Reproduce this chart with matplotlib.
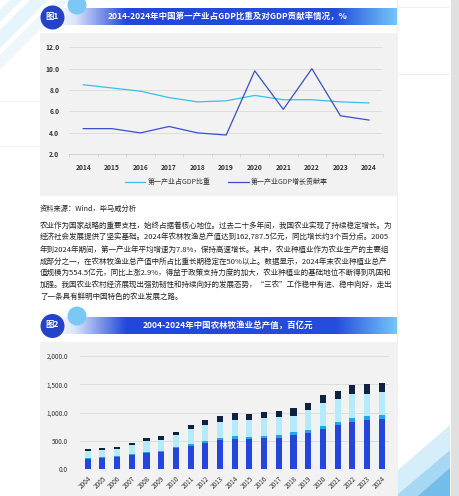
import matplotlib
matplotlib.use('Agg')
import matplotlib.pyplot as plt
import numpy as np
from matplotlib.patches import Rectangle, Circle, Polygon

plt.rcParams['font.family'] = ['Noto Sans CJK SC', 'DejaVu Sans']

# chart 1 data
years1 = ['2014', '2015', '2016', '2017', '2018', '2019', '2020', '2021', '2022', '2023', '2024']
gdp_share = [8.5, 8.2, 7.9, 7.3, 6.9, 7.0, 7.5, 7.1, 7.1, 6.9, 6.8]
gdp_contrib = [4.4, 4.4, 4.0, 4.6, 4.0, 3.8, 9.8, 6.2, 10.0, 5.6, 5.2]
legend1 = ['第一产业占GDP比重', '第一产业GDP增长贡献率']

# chart 2 data (百亿元)
years2 = [str(y) for y in range(2004, 2025)]
agri = [181, 196, 215, 247, 280, 308, 369, 420, 469, 515, 541, 530, 547, 559, 601, 649, 708, 779, 833, 869, 887]
forest = [14, 14, 16, 19, 22, 22, 26, 31, 34, 39, 38, 35, 42, 48, 53, 53, 54, 60, 65, 65, 77]
husbandry = [120, 133, 121, 161, 206, 195, 208, 258, 272, 284, 296, 298, 309, 309, 292, 345, 416, 405, 423, 399, 393]
fishery = [36, 40, 40, 45, 52, 56, 64, 76, 87, 96, 110, 113, 119, 119, 131, 125, 131, 142, 161, 166, 166]

title1 = '2014-2024年中国第一产业占GDP比重及对GDP贡献率情况，%'
title2 = '2004-2024年中国农林牧渔业总产值，百亿元'
source = '资料来源：Wind，毕马威分析'
paragraph = [
    '农业作为国家战略的重要支柱，始终占据着核心地位。过去二十多年间，我国农业实现了持续稳定增长。为',
    '经济社会发展提供了坚实基础。2024年农林牧渔总产值达到162,787.5亿元，同比增长约3个百分点。2005',
    '年到2024年期间，第一产业年平均增速为7.8%，保持高速增长。其中，农业种植业作为农业生产的主要组',
    '成部分之一，在农林牧渔业总产值中所占比重长期稳定在50%以上。数据显示，2024年末农业种植业总产',
    '值规模为554.5亿元，同比上涨2.9%，得益于政策支持力度的加大，农业种植业的基础地位不断得到巩固和',
    '加强。我国农业农村经济展现出强劲韧性和持续向好的发展态势，“三农”工作稳中有进、稳中向好，走出',
    '了一条具有鲜明中国特色的农业发展之路。',
]

W, H = 460, 496
fig = plt.figure(figsize=(W / 100, H / 100), dpi=100, facecolor='white')

# page background in pixel coordinates
bg = fig.add_axes([0, 0, 1, 1], zorder=0)
bg.axis('off')

# decorations
for pts, c, a in [([(0, 30), (0, 48), (48, 0), (30, 0)], '#8fd0f2', 0.22),
                  ([(0, 55), (0, 70), (70, 0), (55, 0)], '#bfe4f7', 0.25),
                  ([(0, 10), (0, 22), (22, 0), (10, 0)], '#a9dbf5', 0.25)]:
    bg.add_patch(Polygon(pts, closed=True, color=c, alpha=a, lw=0))
for pts, c in [([(398, 470), (450, 425), (450, 450), (398, 494)], '#d6eef9'),
               ([(398, 494), (450, 450), (450, 496), (398, 496)], '#a6d8f3'),
               ([(418, 496), (450, 468), (450, 496)], '#72bdea')]:
    bg.add_patch(Polygon(pts, closed=True, color=c, lw=0))
bg.add_patch(Rectangle((451, 0), 9, H, color='#e0e0e0', lw=0))
bg.plot([397, 397], [0, H], color='#eeeeee', lw=0.6)
bg.plot([397, 451], [7, 7], color='#eeeeee', lw=0.6)
bg.plot([397, 451], [74, 74], color='#eeeeee', lw=0.6)
bg.plot([0, 40], [101, 101], color='#f0f0f0', lw=0.6)
bg.plot([0, 40], [146, 146], color='#f0f0f0', lw=0.6)

# gray panels
bg.add_patch(Rectangle((40, 33), 357, 163, color='#f2f2f2', lw=0))
bg.add_patch(Rectangle((40, 342), 357, 154, color='#f2f2f2', lw=0))

# gradient title bars
xs = np.linspace(0, 1, 400)
stops = [0.0, 0.05, 0.2, 0.82, 1.0]
cols = np.array([[0.97, 0.98, 1.0], [0.85, 0.89, 0.98], [0.14, 0.28, 0.85],
                 [0.14, 0.30, 0.86], [0.45, 0.78, 0.98]])
grad = np.stack([np.interp(xs, stops, cols[:, k]) for k in range(3)], axis=-1)[None, :, :]
for top, bot in [(8, 25), (317, 334)]:
    bg.imshow(grad, extent=(58, 397, bot, top), aspect='auto', zorder=1)

for cy, sy, lab, ty in [(17.5, 5, '图1', 16.5), (326, 316, '图2', 325)]:
    bg.add_patch(Circle((77, sy), 9.5, color='#7cc8f5', lw=0, zorder=2))
    bg.add_patch(Circle((52.5, cy), 12, color='#2443c9', lw=0, zorder=3))
    bg.text(52.5, ty, lab, color='white', fontsize=6, fontweight='bold',
            ha='center', va='center', zorder=4)

bg.text(228, 16.5, title1, color='white', fontsize=6.1, fontweight='bold',
        ha='center', va='center', zorder=4)
bg.text(228, 325.5, title2, color='white', fontsize=6.1, fontweight='bold',
        ha='center', va='center', zorder=4)

bg.text(40, 209, source, color='#222222', fontsize=5.2, ha='left', va='center')
for i, line in enumerate(paragraph):
    bg.text(40, 226 + i * 11.8, line, color='#222222', fontsize=5.45,
            ha='left', va='center')

bg.set_xlim(0, W)
bg.set_ylim(H, 0)

# chart 1
ax1 = fig.add_axes([69 / W, 1 - 154.3 / H, 314.3 / W, 107 / H], zorder=2)
ax1.patch.set_alpha(0)
x1 = np.arange(len(years1))
l1, = ax1.plot(x1, gdp_share, color='#36c0ea', lw=0.9)
l2, = ax1.plot(x1, gdp_contrib, color='#3a4fd0', lw=0.9)
ax1.set_xlim(-0.5, len(years1) - 0.5)
ax1.set_ylim(2, 12)
ax1.set_yticks([2, 4, 6, 8, 10, 12])
ax1.set_yticklabels(['%.1f' % v for v in [2, 4, 6, 8, 10, 12]])
ax1.set_xticks(x1)
ax1.set_xticklabels(years1)
ax1.set_xticks(np.arange(-0.5, len(years1)), minor=True)
ax1.tick_params(axis='x', which='major', length=0, pad=7, labelsize=4.8, labelcolor='#333333')
ax1.tick_params(axis='x', which='minor', length=2.5, color='#cccccc', width=0.5)
ax1.tick_params(axis='y', length=0, pad=7, labelsize=4.8, labelcolor='#333333')
for lab in ax1.get_xticklabels() + ax1.get_yticklabels():
    lab.set_fontweight('bold')
ax1.grid(axis='y', color='#d9d9d9', lw=0.6)
for s in ['top', 'right', 'left']:
    ax1.spines[s].set_visible(False)
ax1.spines['bottom'].set_color('#cccccc')
ax1.spines['bottom'].set_linewidth(0.6)
ax1.legend([l1, l2], legend1, loc='center', bbox_to_anchor=(0.5, -0.26), ncol=2,
           frameon=False, fontsize=5, handlelength=3, handletextpad=0.3,
           columnspacing=2.5, labelcolor='#333333')

# chart 2
ax2 = fig.add_axes([80.35 / W, 1 - 469.3 / H, 308.7 / W, 113.3 / H], zorder=2)
ax2.patch.set_alpha(0)
x2 = np.arange(len(years2))
bw = 0.42
b1 = np.array(agri)
b2 = b1 + np.array(forest)
b3 = b2 + np.array(husbandry)
ax2.bar(x2, agri, bw, color='#2447d9', zorder=3)
ax2.bar(x2, forest, bw, bottom=b1, color='#1fa8e8', zorder=3)
ax2.bar(x2, husbandry, bw, bottom=b2, color='#b5eafb', zorder=3)
ax2.bar(x2, fishery, bw, bottom=b3, color='#10223f', zorder=3)
ax2.set_xlim(-0.5, len(years2) - 0.5)
ax2.set_ylim(0, 2000)
ax2.set_yticks([0, 500, 1000, 1500, 2000])
ax2.set_yticklabels(['{:,.1f}'.format(v) for v in [0, 500, 1000, 1500, 2000]])
ax2.set_xticks(x2)
ax2.set_xticklabels(years2, rotation=45, ha='right', rotation_mode='anchor')
ax2.tick_params(axis='x', length=0, pad=4, labelsize=4.6, labelcolor='#333333')
ax2.tick_params(axis='y', length=0, pad=9, labelsize=4.6, labelcolor='#333333')
ax2.grid(axis='y', color='#d9d9d9', lw=0.6, zorder=0)
for s in ['top', 'right', 'left', 'bottom']:
    ax2.spines[s].set_visible(False)

fig.savefig('out.png', dpi=100, facecolor='white')
